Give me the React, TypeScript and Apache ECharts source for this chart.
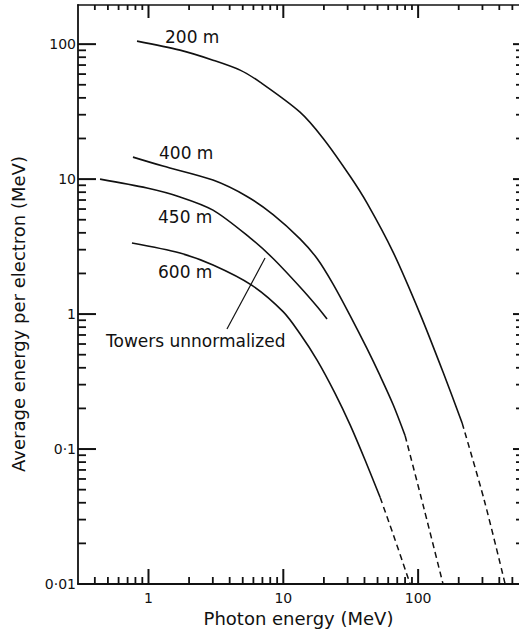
import React, { useEffect, useRef } from 'react';
import * as echarts from 'echarts';

// Axis ranges (MeV)
const X_MIN = 0.3;
const X_MAX = 560;
const Y_MIN = 0.01;
const Y_MAX = 195;

// Tick values and labels
const xTickValues = [1, 10, 100];
const xTickLabels = ['1', '10', '100'];
const yTickValues = [0.01, 0.1, 1, 10, 100];
const yTickLabels = ['0·01', '0·1', '1', '10', '100'];
const xMinorTicks = [0.4, 0.5, 0.6, 0.7, 0.8, 0.9, 2, 3, 4, 5, 6, 7, 8, 9, 20, 30, 40, 50, 60, 70, 80, 90, 200, 300, 400, 500];
const yMinorTicks = [0.02, 0.03, 0.04, 0.05, 0.06, 0.07, 0.08, 0.09, 0.2, 0.3, 0.4, 0.5, 0.6, 0.7, 0.8, 0.9, 2, 3, 4, 5, 6, 7, 8, 9, 20, 30, 40, 50, 60, 70, 80, 90];

// Curves: [photon energy MeV, average energy per electron MeV]
const curve200Solid: [number, number][] = [
  [0.822, 105.3], [1.713, 90.3], [3.01, 76.1], [4.78, 64.2], [6.72, 52.3], [13.3, 31.35], [19.7, 20.1],
  [31.3, 10.5], [41.8, 6.64], [65.2, 2.88], [103.5, 1.0], [153, 0.372], [212, 0.156],
];
const curve200Dashed: [number, number][] = [[212, 0.156], [309, 0.0419], [442, 0.01]];

const curve400Solid: [number, number][] = [
  [0.767, 14.55], [1.28, 12.49], [3.01, 9.83], [5.38, 7.44], [8.4, 5.46], [13.3, 3.61], [17.8, 2.58],
  [23.4, 1.668], [31.3, 0.975], [41.8, 0.554], [52.3, 0.348], [65.2, 0.2137], [80.1, 0.1255],
];
const curve400Dashed: [number, number][] = [[80.1, 0.1255], [110.8, 0.0359], [153, 0.01]];

const curve450Solid: [number, number][] = [
  [0.437, 10.0], [0.975, 8.59], [1.713, 7.38], [3.01, 5.89], [5.67, 3.67], [8.4, 2.58], [13.3, 1.587],
  [17.8, 1.137], [21.1, 0.918],
];

const curve600Solid: [number, number][] = [
  [0.754, 3.36], [1.713, 2.83], [3.01, 2.31], [5.86, 1.632], [9.96, 1.042], [13.3, 0.715], [17.8, 0.456],
  [24.2, 0.2586], [31.3, 0.151], [40.4, 0.0829], [52.3, 0.0437],
];
const curve600Dashed: [number, number][] = [[52.3, 0.0437], [67.5, 0.0212], [87.2, 0.01]];

// Leader line from the "Towers unnormalized" note to the 450 m curve
const leaderLine: [number, number][] = [[3.82, 0.774], [7.32, 2.6]];

const curveLabels = ['200 m', '400 m', '450 m', '600 m'];
const noteText = 'Towers unnormalized';
const xAxisTitle = 'Photon energy (MeV)';
const yAxisTitle = 'Average energy per electron (MeV)';

const FONT = 'DejaVu Sans';
const INK = '#111';

// Layout of the plotting frame
const W = 519;
const H = 636;
const GRID = { left: 78, right: 0, top: 5, bottom: 52 };

function decadeLabel(values: number[], labels: string[]) {
  return (v: number) => {
    for (let i = 0; i < values.length; i++) {
      if (Math.abs(Math.log10(v) - Math.log10(values[i])) < 1e-6) return labels[i];
    }
    return '';
  };
}

export default function App() {
  const ref = useRef<HTMLDivElement>(null);

  useEffect(() => {
    if (!ref.current) return;
    const chart = echarts.init(ref.current, undefined, { renderer: 'svg' });

    const solidStyle = { color: INK, width: 1.6 };
    const dashedStyle = { color: INK, width: 1.5, type: [6, 4] as number[] };
    const lineSeries = (data: [number, number][], dashed: boolean) => ({
      type: 'line',
      data,
      symbol: 'none',
      smooth: 0.3,
      lineStyle: dashed ? dashedStyle : solidStyle,
      xAxisIndex: 0,
      yAxisIndex: 0,
    });

    // Frame tick marks as short two-point lines on the log scales
    const plotW = W - GRID.left - GRID.right;
    const plotH = H - GRID.top - GRID.bottom;
    const xDecPerPx = Math.log10(X_MAX / X_MIN) / plotW;
    const yDecPerPx = Math.log10(Y_MAX / Y_MIN) / plotH;
    const tickLine = (a: number[], b: number[], width: number) => ({
      type: 'line',
      data: [a, b],
      symbol: 'none',
      silent: true,
      z: 6,
      lineStyle: { color: INK, width },
      xAxisIndex: 0,
      yAxisIndex: 0,
    });
    const bottomTicks = (vals: number[], len: number, w: number) =>
      vals.map((v) => tickLine([v, Y_MIN], [v, Y_MIN * Math.pow(10, len * yDecPerPx)], w));
    const topTicks = (vals: number[], len: number, w: number) =>
      vals.map((v) => tickLine([v, Y_MAX], [v, Y_MAX / Math.pow(10, len * yDecPerPx)], w));
    const leftTicks = (vals: number[], len: number, w: number) =>
      vals.map((v) => tickLine([X_MIN, v], [X_MIN * Math.pow(10, len * xDecPerPx), v], w));
    const rightTicks = (vals: number[], len: number, w: number) =>
      vals.map((v) => tickLine([X_MAX, v], [X_MAX / Math.pow(10, len * xDecPerPx), v], w));

    const labelPos = [
      { x: 165, y: 37 },
      { x: 159, y: 153 },
      { x: 158, y: 217 },
      { x: 158, y: 272 },
    ];

    const option: any = {
      animation: false,
      grid: { ...GRID, containLabel: false, outerBoundsMode: 'none' },
      xAxis: [
        {
          type: 'log', min: X_MIN, max: X_MAX, position: 'bottom',
          axisLine: { show: true, onZero: false, lineStyle: { color: INK, width: 1.8 } },
          axisTick: { show: false },
          axisLabel: { show: true, formatter: decadeLabel(xTickValues, xTickLabels), color: INK, fontSize: 14, fontFamily: FONT, margin: 7 },
          splitLine: { show: false },
          name: xAxisTitle, nameLocation: 'middle', nameGap: 24,
          nameTextStyle: { color: INK, fontSize: 18, fontFamily: FONT },
        },
        {
          type: 'log', min: X_MIN, max: X_MAX, position: 'top',
          axisLine: { show: true, onZero: false, lineStyle: { color: INK, width: 1.7 } },
          axisTick: { show: false },
          axisLabel: { show: false },
          splitLine: { show: false },
        },
      ],
      yAxis: [
        {
          type: 'log', min: Y_MIN, max: Y_MAX, position: 'left',
          axisLine: { show: true, onZero: false, lineStyle: { color: INK, width: 1.8 } },
          axisTick: { show: false },
          axisLabel: { show: true, formatter: decadeLabel(yTickValues, yTickLabels), color: INK, fontSize: 14, fontFamily: FONT, margin: 2 },
          splitLine: { show: false },
        },
        {
          type: 'log', min: Y_MIN, max: Y_MAX, position: 'right',
          axisLine: { show: false, onZero: false },
          axisTick: { show: false },
          axisLabel: { show: false },
          splitLine: { show: false },
        },
      ],
      series: [
        lineSeries(curve200Solid, false),
        lineSeries(curve200Dashed, true),
        lineSeries(curve400Solid, false),
        lineSeries(curve400Dashed, true),
        lineSeries(curve450Solid, false),
        lineSeries(curve600Solid, false),
        lineSeries(curve600Dashed, true),
        {
          type: 'line', data: leaderLine, symbol: 'none',
          lineStyle: { color: INK, width: 1.2 },
        },
        ...bottomTicks(xTickValues, 15, 2),
        ...topTicks(xTickValues, 13, 2),
        ...leftTicks(yTickValues.slice(1), 18, 2),
        ...rightTicks(yTickValues.slice(1), 6, 2),
        ...bottomTicks(xMinorTicks, 7, 1.8),
        ...topTicks(xMinorTicks, 5, 1.8),
        ...leftTicks(yMinorTicks, 8, 1.8),
        ...rightTicks(yMinorTicks, 3, 1.8),
      ],
      graphic: [
        ...curveLabels.map((t, i) => ({
          type: 'text', x: labelPos[i].x, y: labelPos[i].y, silent: true,
          style: { text: t, fill: INK, fontSize: 17, fontFamily: FONT, align: 'left', verticalAlign: 'middle' },
        })),
        {
          type: 'text', x: 106, y: 341, silent: true,
          style: { text: noteText, fill: INK, fontSize: 17, fontFamily: FONT, align: 'left', verticalAlign: 'middle' },
        },
        {
          type: 'text', x: 18, y: 314, rotation: Math.PI / 2, silent: true,
          style: { text: yAxisTitle, fill: INK, fontSize: 18, fontFamily: FONT, align: 'center', verticalAlign: 'middle' },
        },
      ],
    };

    chart.setOption(option);
    return () => chart.dispose();
  }, []);

  return (
    <div
      ref={ref}
      style={{ position: 'absolute', left: 0, top: 0, width: W, height: H, background: '#fff' }}
    />
  );
}
